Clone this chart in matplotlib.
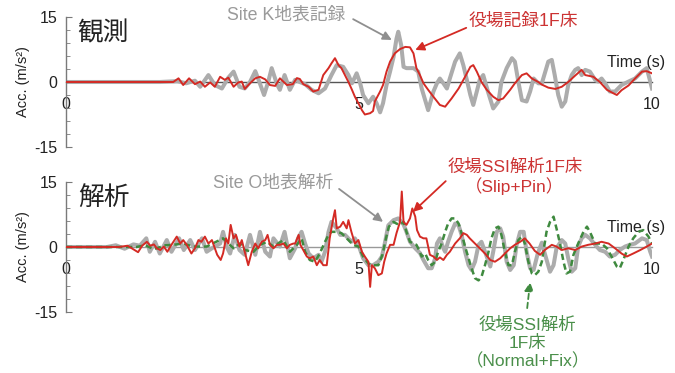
import numpy as np
import matplotlib
matplotlib.use("Agg")
import matplotlib.pyplot as plt

plt.rcParams['font.family'] = ['Liberation Sans', 'Noto Sans CJK JP', 'DejaVu Sans']
plt.rcParams['axes.unicode_minus'] = False

# --- observed records (top panel) ---
obs_gray_t = [0.0, 1.6, 1.9, 2.05, 2.2, 2.29, 2.43, 2.54, 2.66, 2.77, 2.86, 2.96, 3.05, 3.14, 3.23, 3.30,
              3.38, 3.45, 3.51, 3.60, 3.65, 3.73, 3.82, 3.91, 3.99, 4.08, 4.19, 4.31, 4.42, 4.53, 4.62,
              4.73, 4.82, 4.88, 4.96, 5.02, 5.07, 5.16, 5.24, 5.30, 5.36, 5.41, 5.47, 5.53, 5.59, 5.64,
              5.67, 5.72, 5.76, 5.81, 5.93, 6.01, 6.07, 6.18, 6.27, 6.33, 6.38, 6.44, 6.50, 6.55, 6.64,
              6.72, 6.78, 6.84, 6.90, 6.95, 7.01, 7.06, 7.12, 7.20, 7.29, 7.38, 7.43, 7.52, 7.61, 7.66,
              7.72, 7.78, 7.86, 7.92, 7.98, 8.06, 8.12, 8.23, 8.29, 8.34, 8.40, 8.46, 8.52, 8.57, 8.63,
              8.69, 8.74, 8.80, 8.86, 8.94, 9.03, 9.08, 9.14, 9.20, 9.28, 9.37, 9.48, 9.60, 9.71, 9.83,
              9.91, 9.97, 10.0]
obs_gray_v = [0.0, 0.0, 0.2, -0.3, 0.3, -1.1, 1.6, -0.7, -1.5, 1.0, 2.4, -1.1, -1.5, 0.0, 2.5, 0.0,
              -3.0, 0.0, 3.2, -0.5, -1.8, 1.6, -1.8, 0.5, 0.0, -0.5, -1.8, -2.6, -1.5, 1.6, 3.9,
              3.5, 1.6, -0.3, 2.0, -0.3, -3.0, -4.9, -3.4, -4.9, -7.0, -4.9, -0.7, 2.4, 5.8, 10.0,
              11.6, 8.5, 3.5, 3.2, 3.2, 2.4, -1.5, -6.5, -2.2, -0.3, 0.8, -0.3, -1.5, 0.8, 4.7,
              6.6, 3.9, 0.5, -3.0, -5.3, -2.2, 0.5, 1.6, -2.2, -6.1, -4.5, 0.0, 3.2, 5.5, 4.7,
              0.0, -4.2, -4.5, -2.2, 0.8, -0.3, -0.3, 4.7, 5.1, 1.6, -3.0, -5.7, -4.5, -0.7, 1.6,
              2.8, 3.2, 1.6, 2.8, 2.4, 0.5, 0.1, 0.8, -0.3, -2.2, -2.2, -0.7, 0.1, 0.8, 2.4,
              3.2, 0.1, -1.5]

obs_red_t = [0.0, 1.83, 1.92, 2.00, 2.10, 2.20, 2.29, 2.37, 2.46, 2.54, 2.63, 2.71, 2.77, 2.86, 2.94,
             3.00, 3.05, 3.14, 3.23, 3.31, 3.40, 3.48, 3.57, 3.65, 3.77, 3.87, 3.94, 3.99, 4.05, 4.14,
             4.22, 4.31, 4.39, 4.48, 4.53, 4.59, 4.65, 4.70, 4.76, 4.82, 4.88, 4.93, 4.99, 5.05, 5.10,
             5.19, 5.24, 5.27, 5.36, 5.41, 5.47, 5.53, 5.61, 5.70, 5.79, 5.87, 5.93, 5.98, 6.04, 6.10,
             6.18, 6.27, 6.38, 6.47, 6.58, 6.70, 6.81, 6.90, 6.95, 7.01, 7.09, 7.18, 7.29, 7.38, 7.46,
             7.58, 7.66, 7.78, 7.86, 7.95, 8.06, 8.12, 8.23, 8.35, 8.46, 8.57, 8.69, 8.80, 8.86, 9.00,
             9.11, 9.23, 9.34, 9.40, 9.48, 9.60, 9.71, 9.83, 9.91, 10.0]
obs_red_v = [0.0, 0.0, 0.85, -0.7, 0.85, -0.5, 0.1, -1.1, -0.1, -1.1, 1.2, 0.5, 1.0, -1.1, -0.1,
             0.1, -1.6, -0.3, 0.85, 1.2, 0.6, -0.7, -0.9, 0.85, -0.7, -0.5, 0.9, 0.7, -0.5, -1.1,
             -2.2, -1.8, 1.6, 3.2, 4.3, 5.5, 3.9, 3.2, 1.6, 0.0, -1.8, -3.4, -4.9, -6.5, -7.5,
             -7.2, -6.7, -4.5, -2.2, -0.7, 2.4, 4.7, 6.6, 7.6, 8.1, 8.0, 6.6, 3.2, 1.6, -0.3,
             -1.8, -3.4, -5.3, -5.7, -3.8, -1.5, 1.2, 3.5, 3.9, 2.4, 0.0, -1.8, -3.4, -4.2, -3.8,
             -1.8, -0.3, 1.6, 2.0, 0.8, 0.0, -0.6, -1.3, -1.6, -1.1, 0.0, 1.5, 2.8, 1.6, 1.2,
             0.0, -1.8, -2.6, -3.0, -1.9, -0.8, 0.8, 2.4, 2.5, 2.0]

# --- analysis results (bottom panel) ---
ana_gray_t = [0.0, 0.7, 0.85, 1.0, 1.15, 1.26, 1.37, 1.43, 1.52, 1.60, 1.72, 1.80, 1.93, 2.01, 2.12,
              2.20, 2.32, 2.40, 2.49, 2.63, 2.68, 2.74, 2.80, 2.88, 2.96, 3.05, 3.14, 3.23, 3.31, 3.40,
              3.48, 3.54, 3.65, 3.73, 3.82, 3.91, 3.96, 4.02, 4.08, 4.14, 4.22, 4.31, 4.36, 4.42, 4.48,
              4.53, 4.62, 4.68, 4.76, 4.79, 4.87, 4.93, 4.99, 5.07, 5.16, 5.24, 5.33, 5.39, 5.44, 5.50,
              5.59, 5.67, 5.76, 5.81, 5.87, 5.96, 6.04, 6.10, 6.18, 6.24, 6.30, 6.33, 6.38, 6.44, 6.47,
              6.52, 6.58, 6.64, 6.70, 6.75, 6.81, 6.87, 6.92, 6.98, 7.04, 7.09, 7.15, 7.21, 7.24, 7.29,
              7.35, 7.41, 7.46, 7.52, 7.58, 7.64, 7.69, 7.75, 7.81, 7.86, 7.92, 7.98, 8.05, 8.12, 8.17,
              8.26, 8.32, 8.37, 8.46, 8.52, 8.57, 8.63, 8.69, 8.74, 8.80, 8.86, 8.94, 9.03, 9.11, 9.20,
              9.28, 9.37, 9.45, 9.54, 9.62, 9.71, 9.83, 9.91, 9.97, 10.0]
ana_gray_v = [0.0, 0.0, 0.4, -0.4, 0.6, 0.3, 2.0, -1.1, 1.2, -1.5, 1.6, -1.1, 2.0, -0.7, 1.6,
              -0.7, 2.0, -1.1, -0.3, 0.8, 3.5, 0.1, -1.5, 2.8, -0.7, -1.8, 2.8, -1.8, 3.5, -1.1,
              -2.2, 2.0, 0.1, 3.5, -2.6, -0.3, 2.0, 3.5, 0.8, -1.5, -2.6, -1.8, -3.4, -1.1, 3.5,
              5.8, 4.3, 2.8, 2.8, 2.4, 1.2, 2.0, 0.5, -2.6, -4.2, -4.2, -3.4, -2.2, 0.8, 5.0,
              6.2, 6.6, 5.2, 3.5, 1.2, -0.3, -1.4, -3.0, -4.9, -4.9, -2.6, 0.8, 2.0, -0.3, -1.1,
              1.2, 3.5, 5.4, 5.0, 2.8, -1.1, -4.2, -5.3, -3.4, 0.5, 1.2, -1.1, -3.4, -4.5, -1.1,
              3.5, 4.3, 2.4, -3.4, -5.3, -4.2, 0.5, 3.5, 3.5, -1.1, -4.9, -5.3, -1.5, 1.0, -1.5,
              -5.7, -4.2, -0.3, 1.6, 0.8, -2.6, -5.7, -4.9, 0.1, 2.0, 2.8, 2.0, 0.5, -0.7, -1.1,
              -2.2, -1.8, -0.7, 0.1, 0.5, 0.8, 2.0, 1.6, -1.1, -2.2]

ana_green_t = [0.0, 1.2, 1.35, 1.5, 1.7, 1.83, 2.00, 2.17, 2.40, 2.68, 2.77, 2.86, 2.97, 3.05, 3.20,
               3.31, 3.43, 3.54, 3.71, 3.82, 3.94, 4.02, 4.08, 4.16, 4.25, 4.33, 4.42, 4.48, 4.53, 4.62,
               4.70, 4.76, 4.82, 4.90, 4.99, 5.07, 5.16, 5.24, 5.33, 5.40, 5.46, 5.51, 5.59, 5.64, 5.70,
               5.76, 5.81, 5.87, 5.93, 5.98, 6.01, 6.07, 6.13, 6.18, 6.24, 6.30, 6.35, 6.41, 6.47, 6.52,
               6.58, 6.64, 6.70, 6.75, 6.81, 6.87, 6.92, 6.98, 7.04, 7.09, 7.15, 7.21, 7.26, 7.32, 7.38,
               7.43, 7.49, 7.55, 7.61, 7.66, 7.72, 7.78, 7.83, 7.89, 7.95, 8.00, 8.06, 8.12, 8.20, 8.26,
               8.32, 8.37, 8.43, 8.49, 8.54, 8.60, 8.66, 8.74, 8.83, 8.89, 8.94, 9.03, 9.14, 9.23, 9.31,
               9.40, 9.45, 9.51, 9.60, 9.68, 9.77, 9.85, 9.94, 10.0]
ana_green_v = [0.0, 0.0, 0.4, -0.5, 0.4, 0.5, 0.8, 0.1, 0.1, 2.0, 0.8, -0.3, 0.8, -0.7, -1.1,
               0.5, 1.2, 0.1, 1.6, -1.1, 0.5, 2.0, -1.1, -3.0, -3.4, -1.5, 1.2, 2.8, 3.5, 3.5,
               3.2, 2.4, 1.6, 0.5, 0.1, -2.2, -3.8, -4.2, -4.2, -1.8, 2.0, 4.7, 5.8, 5.4, 5.1,
               5.8, 3.5, 1.2, 0.8, 0.5, -0.3, -2.2, -1.5, -3.0, -4.2, -3.4, -1.1, 0.8, 3.5, 5.4,
               6.6, 6.6, 5.4, 3.2, 0.1, -2.6, -4.9, -7.2, -7.7, -6.9, -4.2, -1.1, 2.0, 4.3, 4.7,
               2.8, -1.1, -4.2, -4.2, -1.1, 1.6, 2.4, 0.8, -3.4, -6.1, -6.5, -5.7, -3.4, 3.5, 5.8,
               7.0, 4.3, 0.8, -3.4, -6.1, -5.7, -1.8, 0.8, 3.5, 4.7, 3.5, 0.8, 0.8, -0.3, -2.2,
               -4.5, -4.9, -3.0, 0.1, 2.0, 3.5, 3.9, 2.4, 0.8]

ana_red_t = [0.0, 0.9, 1.05, 1.23, 1.30, 1.38, 1.44, 1.50, 1.55, 1.61, 1.67, 1.73, 1.78, 1.89, 1.95,
             2.00, 2.06, 2.14, 2.20, 2.26, 2.31, 2.37, 2.43, 2.49, 2.54, 2.58, 2.64, 2.68, 2.73, 2.77,
             2.81, 2.86, 2.90, 2.96, 3.00, 3.05, 3.11, 3.17, 3.23, 3.28, 3.34, 3.40, 3.44, 3.48, 3.54,
             3.60, 3.65, 3.71, 3.77, 3.82, 3.88, 3.91, 3.97, 4.00, 4.11, 4.16, 4.22, 4.28, 4.33, 4.39,
             4.45, 4.50, 4.56, 4.59, 4.62, 4.68, 4.73, 4.79, 4.82, 4.87, 4.93, 4.99, 5.05, 5.10, 5.16,
             5.19, 5.22, 5.27, 5.33, 5.39, 5.43, 5.47, 5.53, 5.59, 5.64, 5.70, 5.73, 5.76, 5.81, 5.87,
             5.91, 5.96, 5.99, 6.04, 6.10, 6.15, 6.21, 6.27, 6.33, 6.38, 6.44, 6.50, 6.55, 6.64, 6.72,
             6.78, 6.84, 6.89, 6.98, 7.06, 7.15, 7.24, 7.32, 7.41, 7.49, 7.58, 7.66, 7.75, 7.83, 7.91,
             8.00, 8.09, 8.17, 8.29, 8.37, 8.46, 8.57, 8.69, 8.80, 8.91, 9.03, 9.14, 9.26, 9.37, 9.48,
             9.57, 9.68, 9.80, 9.91, 10.0]
ana_red_v = [0.0, 0.0, 0.3, -1.2, 0.3, 1.2, 0.3, 0.6, -0.3, -0.7, 0.1, -1.1, 0.1, 2.4, 0.8,
             1.6, 0.5, -1.5, -0.3, 1.6, 1.2, 2.4, 0.8, 1.6, -0.3, -1.8, -3.0, -1.5, 2.0, 0.8,
             5.1, 2.0, 2.8, 0.1, 1.6, -1.1, -4.2, -1.1, 0.8, -0.3, 1.2, 1.6, 2.8, 0.5, -0.3,
             0.5, 0.5, 0.8, -0.3, 0.5, 0.8, 0.8, 2.8, 0.5, -2.2, -2.6, -2.2, -4.2, -3.0, -4.2,
             -4.2, 2.0, 6.6, 8.5, 4.3, 4.7, 5.8, 4.3, 6.2, 3.5, 0.8, 1.6, -1.1, -2.2, -3.4,
             -9.2, -4.2, -4.9, -6.5, -6.1, -3.4, -1.5, 0.5, 0.5, 3.2, 5.8, 12.8, 5.8, 5.1, 6.6,
             8.9, 7.0, 3.9, 2.4, 2.0, 2.0, -1.8, -2.2, -3.0, -2.4, -3.0, -1.8, -1.1, 0.8, 2.0,
             3.2, 2.8, 2.0, 0.8, -0.3, -1.5, -3.0, -3.4, -2.6, -1.5, -0.3, 0.5, 1.2, 2.0, 0.8,
             -0.9, -1.8, -0.7, 0.5, 0.1, -0.7, -0.3, -0.7, 0.1, 0.5, 0.8, 1.2, 0.8, -0.3, -1.5,
             -2.2, -1.5, -0.7, 0.1, 0.8]

x_ticks = [0, 5, 10]
y_ticks = [-15, 0, 15]

GRAY = '#acacac'
RED = '#d42a24'
GREEN = '#3f8a3f'
TXT_GRAY = '#9a9a9a'
TXT_RED = '#cc3333'
TXT_GREEN = '#4a8f4a'

W, H = 675, 373
fig = plt.figure(figsize=(W / 100, H / 100), dpi=100)

# axes placed in pixel units: x 66..652, y +15..-15
ax_top = fig.add_axes([66 / W, (H - 147) / H, 586 / W, 130 / H])
ax_bot = fig.add_axes([66 / W, (H - 312) / H, 586 / W, 130 / H])


def style_axis(ax, zero_color):
    ax.set_xlim(0, 10)
    ax.set_ylim(-15, 15)
    ax.patch.set_alpha(0)
    for s in ['top', 'right']:
        ax.spines[s].set_visible(False)
    ax.spines['bottom'].set_position(('data', 0))
    ax.spines['bottom'].set_color(zero_color)
    ax.spines['bottom'].set_linewidth(1.0)
    ax.spines['bottom'].set_zorder(1)
    ax.spines['left'].set_color('#7a7a7a')
    ax.spines['left'].set_linewidth(1.0)
    ax.set_xticks(x_ticks)
    ax.set_xticklabels([str(v) for v in x_ticks])
    ax.tick_params(axis='x', length=0, pad=11, labelsize=11.5, labelcolor='#222222')
    ax.set_yticks(y_ticks)
    ax.set_yticks(np.arange(-15, 16, 3), minor=True)
    ax.tick_params(axis='y', which='both', direction='in', colors='#7a7a7a',
                   labelcolor='#222222', labelsize=11.5, pad=6)
    ax.tick_params(axis='y', which='major', length=4)
    ax.tick_params(axis='y', which='minor', length=3)
    ax.set_ylabel('Acc. (m/s²)', fontsize=10.5, color='#222222', labelpad=3)
    ax.text(9.72, 4.4, 'Time (s)', fontsize=11.5, color='#222222', ha='center', va='center')


style_axis(ax_top, '#555555')
style_axis(ax_bot, '#999999')

# top panel: observed
ax_top.plot(obs_gray_t, obs_gray_v, color=GRAY, lw=2.9, solid_joinstyle='round', zorder=2)
ax_top.plot(obs_red_t, obs_red_v, color=RED, lw=1.4, zorder=3)
ax_top.text(0.2, 11.3, '観測', fontsize=18.5, color='#222222', ha='left', va='center')

ax_top.text(3.75, 15.5, 'Site K地表記録', fontsize=12.8, color=TXT_GRAY, ha='center', va='center')
ax_top.annotate('', xy=(5.56, 9.7), xytext=(4.9, 14.5), annotation_clip=False,
                arrowprops=dict(arrowstyle='-|>', color='#8f8f8f', lw=1.3, mutation_scale=13,
                                shrinkA=0, shrinkB=0))
ax_top.text(7.80, 13.9, '役場記録1F床', fontsize=12.8, color=TXT_RED, ha='center', va='center')
ax_top.annotate('', xy=(5.96, 7.4), xytext=(6.83, 12.5), annotation_clip=False,
                arrowprops=dict(arrowstyle='-|>', color=RED, lw=1.3, mutation_scale=13,
                                shrinkA=0, shrinkB=0))

# bottom panel: analysis
ax_bot.plot(ana_gray_t, ana_gray_v, color=GRAY, lw=2.9, solid_joinstyle='round', zorder=2)
ax_bot.plot(ana_green_t, ana_green_v, color=GREEN, lw=1.8, ls=(0, (2.5, 1.5)), zorder=3)
ax_bot.plot(ana_red_t, ana_red_v, color=RED, lw=1.4, zorder=4)
ax_bot.text(0.2, 11.3, '解析', fontsize=18.5, color='#222222', ha='left', va='center')

ax_bot.text(3.53, 14.8, 'Site O地表解析', fontsize=12.8, color=TXT_GRAY, ha='center', va='center')
ax_bot.annotate('', xy=(5.41, 5.8), xytext=(4.66, 13.4), annotation_clip=False,
                arrowprops=dict(arrowstyle='-|>', color='#8f8f8f', lw=1.3, mutation_scale=13,
                                shrinkA=0, shrinkB=0))
ax_bot.text(7.66, 16.1, '役場SSI解析1F床\n（Slip+Pin）', fontsize=12.5, color=TXT_RED,
            ha='center', va='center', linespacing=1.15)
ax_bot.annotate('', xy=(5.92, 8.1), xytext=(6.48, 15.2), annotation_clip=False,
                arrowprops=dict(arrowstyle='-|>', color=RED, lw=1.3, mutation_scale=13,
                                shrinkA=0, shrinkB=0))
ax_bot.text(7.88, -22.1, '役場SSI解析\n1F床\n（Normal+Fix）', fontsize=12.5, color=TXT_GREEN,
            ha='center', va='center', linespacing=1.15)
ax_bot.annotate('', xy=(7.92, -8.1), xytext=(7.87, -14.1), annotation_clip=False,
                arrowprops=dict(arrowstyle='-|>', color=GREEN, lw=1.3, ls=(0, (3, 2)),
                                mutation_scale=13, shrinkA=0, shrinkB=0))

fig.savefig('out.png', dpi=100)
